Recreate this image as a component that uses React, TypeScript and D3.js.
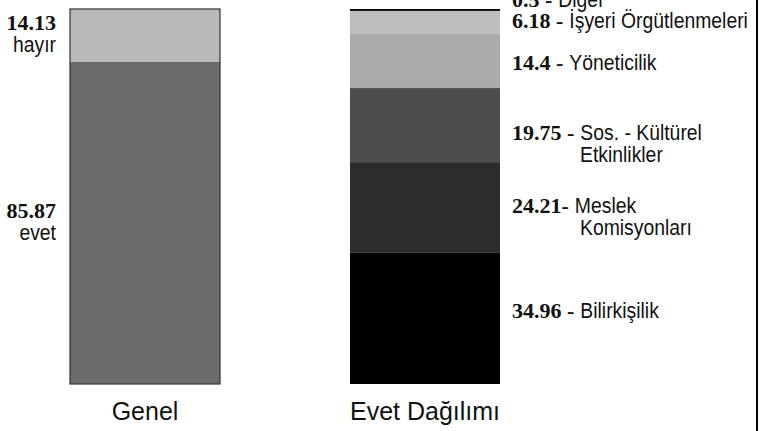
import React, { useEffect, useRef } from 'react';
import * as d3 from 'd3';

// bars (categories along x)
const barNames = ['Genel', 'Evet Dağılımı'];

// left bar, bottom to top
const genelLabels = ['evet', 'hayır'];
const genelValues = [85.87, 14.13];

// right bar, bottom to top
const evetLabels = [
  ['Bilirkişilik'],
  ['Meslek', 'Komisyonları'],
  ['Sos. - Kültürel', 'Etkinlikler'],
  ['Yöneticilik'],
  ['İşyeri Örgütlenmeleri'],
  ['Diğer'],
];
const evetValues = [34.96, 24.21, 19.75, 14.4, 6.18, 0.5];
const evetNumText = ['34.96 -', '24.21-', '19.75 -', '14.4 -', '6.18 -', '0.5 -'];

// look
const genelColors = ['#6b6b6b', '#b9b9b9'];
const evetColors = ['#000000', '#2c2c2c', '#4d4d4d', '#ababab', '#bdbdbd', '#000000'];
// baseline shift of each right label relative to its band centre
const evetLabelShift = [0, 5.5, 15, 9, 5.5, -3];

const W = 763;
const H = 431;
const NUM_FONT = '"Liberation Serif", "DejaVu Serif", serif';
const NAME_FONT = '"Liberation Sans", Arial, sans-serif';
const NAME_SIZE = 22;
const NAME_SQUEEZE = 0.88;

const App: React.FC = () => {
  const svgRef = useRef<SVGSVGElement>(null);

  useEffect(() => {
    if (!svgRef.current) return;
    const svg = d3.select(svgRef.current);
    svg.selectAll('*').remove();

    const x = d3.scaleBand<string>()
      .domain(barNames)
      .range([70, 500])
      .paddingInner(130 / 280);

    const y = d3.scaleLinear().domain([0, 100]).range([384, 9]);

    const stackOf = (vals: number[]) => {
      const tops = Array.from(d3.cumsum(vals));
      return vals.map((v, i) => ({ lo: tops[i] - v, hi: tops[i], v, i }));
    };

    const genel = stackOf(genelValues);
    const evet = stackOf(evetValues);

    // condensed-looking sans text
    const nameText = (g: any, tx: number, ty: number, s: string, anchor = 'start') =>
      g.append('text')
        .attr('transform', `translate(${tx},${ty}) scale(${NAME_SQUEEZE},1)`)
        .attr('text-anchor', anchor)
        .attr('font-family', NAME_FONT)
        .attr('font-size', NAME_SIZE)
        .attr('fill', '#111')
        .text(s);

    // left bar
    const gx = x('Genel')!;
    svg.append('g')
      .selectAll('rect')
      .data(genel)
      .enter()
      .append('rect')
      .attr('x', gx)
      .attr('width', x.bandwidth())
      .attr('y', d => y(d.hi))
      .attr('height', d => y(d.lo) - y(d.hi))
      .attr('fill', d => genelColors[d.i]);
    svg.append('rect')
      .attr('x', gx)
      .attr('y', y(100))
      .attr('width', x.bandwidth())
      .attr('height', y(0) - y(100))
      .attr('fill', 'none')
      .attr('stroke', '#333')
      .attr('stroke-width', 1.2);

    // right bar
    const ex = x('Evet Dağılımı')!;
    svg.append('g')
      .selectAll('rect')
      .data(evet)
      .enter()
      .append('rect')
      .attr('x', ex)
      .attr('width', x.bandwidth())
      .attr('y', d => y(d.hi))
      .attr('height', d => y(d.lo) - y(d.hi))
      .attr('fill', d => evetColors[d.i]);

    // left labels
    const leftG = svg.append('g');
    genel.forEach(d => {
      const cy = y((d.lo + d.hi) / 2);
      leftG.append('text')
        .attr('x', 56)
        .attr('y', cy - 5)
        .attr('text-anchor', 'end')
        .attr('font-family', NUM_FONT)
        .attr('font-weight', 'bold')
        .attr('font-size', 22)
        .attr('fill', '#111')
        .text(d3.format('.2f')(d.v));
      nameText(leftG, 56, cy + 17, genelLabels[d.i], 'end');
    });

    // right labels
    const rightG = svg.append('g');
    const lx = ex + x.bandwidth() + 12;
    evet.forEach(d => {
      const cy = y((d.lo + d.hi) / 2) + evetLabelShift[d.i];
      const num = rightG.append('text')
        .attr('x', lx)
        .attr('y', cy)
        .attr('font-family', NUM_FONT)
        .attr('font-weight', 'bold')
        .attr('font-size', 22)
        .attr('fill', '#111')
        .text(evetNumText[d.i]);
      const numW = (num.node() as SVGTextElement).getComputedTextLength();
      nameText(rightG, lx + numW + 6, cy, evetLabels[d.i][0]);
      if (evetLabels[d.i].length > 1) {
        nameText(rightG, lx + 68, cy + 22, evetLabels[d.i][1]);
      }
    });

    // category titles under the bars
    svg.append('g')
      .selectAll('text')
      .data(barNames)
      .enter()
      .append('text')
      .attr('x', d => x(d)! + x.bandwidth() / 2)
      .attr('y', 420)
      .attr('text-anchor', 'middle')
      .attr('font-family', NAME_FONT)
      .attr('font-size', 25)
      .attr('fill', '#111')
      .text(d => d);

    // frame line on the right
    svg.append('line')
      .attr('x1', 757)
      .attr('x2', 757)
      .attr('y1', 0)
      .attr('y2', H)
      .attr('stroke', '#000')
      .attr('stroke-width', 2);
  }, []);

  return (
    <svg
      ref={svgRef}
      width={W}
      height={H}
      style={{ position: 'absolute', left: 0, top: 0, background: '#fff' }}
    />
  );
};

export default App;
